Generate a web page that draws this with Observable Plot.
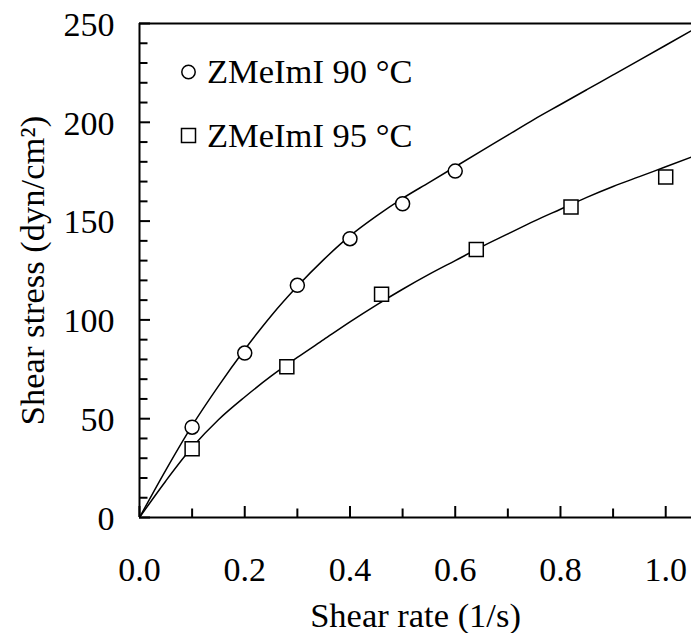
<!DOCTYPE html>
<html>
<head>
<meta charset="utf-8">
<script src="https://cdn.jsdelivr.net/npm/d3@7"></script>
<script src="https://cdn.jsdelivr.net/npm/@observablehq/plot@0.6"></script>
<style>
  html, body { margin: 0; padding: 0; background: #fff; }
  #chart svg { display: block; }
</style>
</head>
<body>
<div id="chart"></div>
<script>
// ---- data ----
const rate90 = [0.1, 0.2, 0.3, 0.4, 0.5, 0.6];
const stress90 = [45.7, 83.2, 117.5, 141.1, 158.8, 175.3];
const rate95 = [0.1, 0.28, 0.46, 0.64, 0.82, 1.0];
const stress95 = [34.8, 76.3, 113.0, 135.6, 157.1, 172.3];

// fitted curves
const fitRate = [0, 0.05, 0.1, 0.15, 0.2, 0.25, 0.3, 0.35, 0.4, 0.45, 0.5, 0.55, 0.6, 0.65, 0.7, 0.75, 0.8, 0.85, 0.9, 0.95, 1.0, 1.05];
const fit90 = [0, 24, 46.5, 66.5, 85, 102, 117, 130.5, 142.5, 152.5, 161.5, 169.5, 177.5, 185.5, 193.5, 201.5, 209, 216.5, 224, 231.5, 239, 246.5];
const fit95 = [0, 18.5, 35.5, 49.5, 61, 71.5, 81, 90, 99, 107.5, 115.5, 123, 130, 137, 143.5, 150, 156, 162, 167.5, 172.5, 177.5, 182.5];

const xMajorTicks = [0, 0.2, 0.4, 0.6, 0.8, 1.0];
const xMinorTicks = [0.1, 0.3, 0.5, 0.7, 0.9];
const yMajorTicks = [0, 50, 100, 150, 200, 250];
const yMinorTicks = [10, 20, 30, 40, 60, 70, 80, 90, 110, 120, 130, 140, 160, 170, 180, 190, 210, 220, 230, 240];

const seriesLabels = ["ZMeImI 90 °C", "ZMeImI 95 °C"];
const xTitle = "Shear rate (1/s)";
const yTitle = "Shear stress (dyn/cm²)";

// ---- build tables ----
const pts90 = rate90.map((x, i) => ({x, y: stress90[i]}));
const pts95 = rate95.map((x, i) => ({x, y: stress95[i]}));
const curve90 = fitRate.map((x, i) => ({x, y: fit90[i]}));
const curve95 = fitRate.map((x, i) => ({x, y: fit95[i]}));

// ---- layout ----
const W = 691, H = 633, mL = 139, mT = 23, mB = 116, mR = 0;
const plotW = W - mL - mR, plotH = H - mT - mB;
const majorLen = 11, minorLen = 8.5;
const font = "'Liberation Serif', 'Times New Roman', serif";

const chart = Plot.plot({
  width: W,
  height: H,
  marginLeft: mL,
  marginRight: mR,
  marginTop: mT,
  marginBottom: mB,
  style: {fontFamily: font, fontSize: "34px", background: "#fff", color: "#000", overflow: "visible"},
  x: {domain: [0, 1.049]},
  y: {domain: [0, 250]},
  marks: [
    // frame (left, bottom, top)
    Plot.ruleX([0], {stroke: "#000", strokeWidth: 2}),
    Plot.ruleY([0, 250], {stroke: "#000", strokeWidth: 2}),
    // inward ticks
    Plot.ruleX(xMajorTicks, {x: d => d, insetTop: plotH - majorLen, stroke: "#000", strokeWidth: 2}),
    Plot.ruleX(xMinorTicks, {x: d => d, insetTop: plotH - minorLen, stroke: "#000", strokeWidth: 2}),
    Plot.ruleY(yMajorTicks, {y: d => d, insetRight: plotW - majorLen, stroke: "#000", strokeWidth: 2}),
    Plot.ruleY(yMinorTicks, {y: d => d, insetRight: plotW - minorLen, stroke: "#000", strokeWidth: 2}),
    // tick labels
    Plot.axisX({ticks: xMajorTicks, tickFormat: d3.format(".1f"), tickSize: 0, tickPadding: 39, label: null, fontSize: 34}),
    Plot.axisY({ticks: yMajorTicks, tickFormat: d => String(d), tickSize: 0, tickPadding: 25, label: null, fontSize: 34, dy: 1.5}),
    // fitted curves
    Plot.line(curve90, {x: "x", y: "y", curve: "monotone-x", stroke: "#000", strokeWidth: 1.5, clip: true}),
    Plot.line(curve95, {x: "x", y: "y", curve: "monotone-x", stroke: "#000", strokeWidth: 1.5, clip: true}),
    // data points
    Plot.dot(pts90, {x: "x", y: "y", r: 7, symbol: "circle", stroke: "#000", fill: "#fff", strokeWidth: 1.5}),
    Plot.dot(pts95, {x: "x", y: "y", r: 7.9, symbol: "square", stroke: "#000", fill: "#fff", strokeWidth: 1.5}),
    // legend
    Plot.dot([seriesLabels[0]], {frameAnchor: "top-left", dx: 49, dy: 48.5, r: 6.7, symbol: "circle", stroke: "#000", fill: "#fff", strokeWidth: 1.5}),
    Plot.dot([seriesLabels[1]], {frameAnchor: "top-left", dx: 49, dy: 112, r: 7.9, symbol: "square", stroke: "#000", fill: "#fff", strokeWidth: 1.5}),
    Plot.text([seriesLabels[0]], {text: d => d, frameAnchor: "top-left", dx: 67.5, dy: 48.5, textAnchor: "start", lineAnchor: "middle", fontSize: 34.5, fill: "#000"}),
    Plot.text([seriesLabels[1]], {text: d => d, frameAnchor: "top-left", dx: 67.5, dy: 112, textAnchor: "start", lineAnchor: "middle", fontSize: 34.5, fill: "#000"}),
    // axis titles
    Plot.text([xTitle], {text: d => d, frameAnchor: "bottom", dy: 109, textAnchor: "middle", lineAnchor: "bottom", fontSize: 34.5, fill: "#000"}),
    Plot.text([yTitle], {text: d => d, frameAnchor: "left", dx: -96, rotate: -90, textAnchor: "middle", lineAnchor: "bottom", fontSize: 34.5, fill: "#000"})
  ]
});

document.getElementById("chart").appendChild(chart);
</script>
</body>
</html>
